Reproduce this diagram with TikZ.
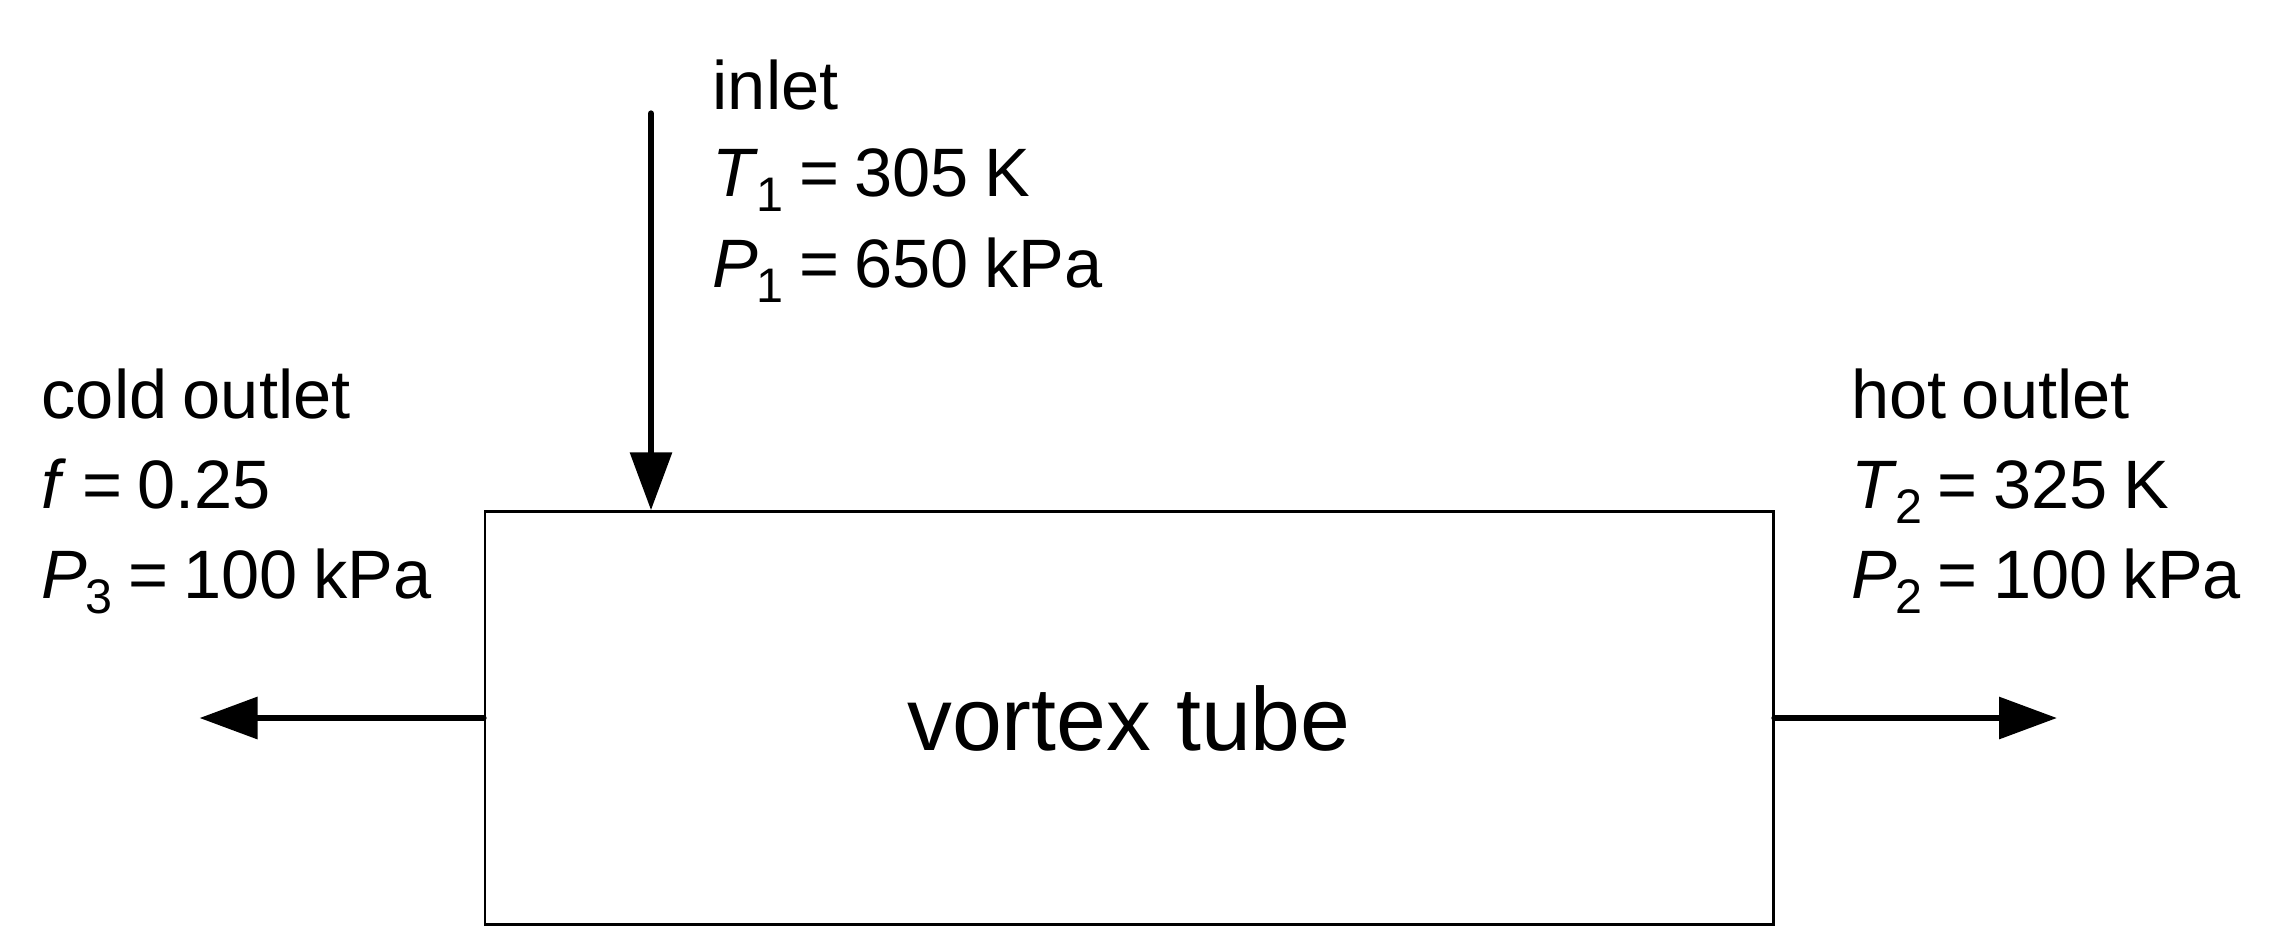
\documentclass[tikz,border=0pt]{standalone}
\usepackage{fontspec}
\setmainfont{Liberation Sans}
\usetikzlibrary{arrows.meta}
\newcommand{\lblfont}{\fontsize{19.5}{25.6}\selectfont\spaceskip=4.4pt plus 1pt minus 1pt\relax}
\newcommand{\subsc}[1]{\kern-0.5pt\raisebox{-4.3pt}{\fontsize{13.8}{16}\selectfont #1}}
\tikzset{
  lbl/.style={anchor=base west, inner sep=0pt, font=\lblfont},
  flow/.style={line width=1.8pt, line cap=round, -{Triangle[length=0.58cm,width=0.41cm]}},
  tubebox/.style={draw, line width=0.85pt, minimum width=12.88cm, minimum height=4.125cm, inner sep=0pt, font=\fontsize{25.5}{30}\selectfont}
}
\begin{document}
\begin{tikzpicture}
\useasboundingbox (0,0) rectangle (22.83,-9.49);
\node[tubebox] (tube) at (11.29,-7.18) {vortex tube};
% inlet
\coordinate (inA) at (6.51,-1.135);
\draw[flow] (inA) -- (inA |- tube.north);
\node[lbl] (inl1) at (7.12,-1.09) {inlet};
\node[lbl] (inl2) at (7.12,-1.965) {\textit{T}\subsc{1} = 305 K};
\node[lbl] (inl3) at (7.12,-2.87) {\textit{P}\subsc{1} = 650 kPa};
% cold outlet
\coordinate (coldEnd) at (1.995,-7.16);
\draw[flow] (tube.west) -- (tube.west -| coldEnd);
\node[lbl] (cold1) at (0.41,-4.18) {cold outlet};
\node[lbl] (cold2) at (0.41,-5.08) {\textit{f} = 0.25};
\node[lbl] (cold3) at (0.41,-5.98) {\textit{P}\subsc{3} = 100 kPa};
% hot outlet
\coordinate (hotEnd) at (20.57,-7.16);
\draw[flow] (tube.east) -- (tube.east -| hotEnd);
\node[lbl] (hot1) at (18.505,-4.18) {hot outlet};
\node[lbl] (hot2) at (18.505,-5.08) {\textit{T}\subsc{2} = 325 K};
\node[lbl] (hot3) at (18.505,-5.98) {\textit{P}\subsc{2} = 100 kPa};
\end{tikzpicture}
\end{document}
